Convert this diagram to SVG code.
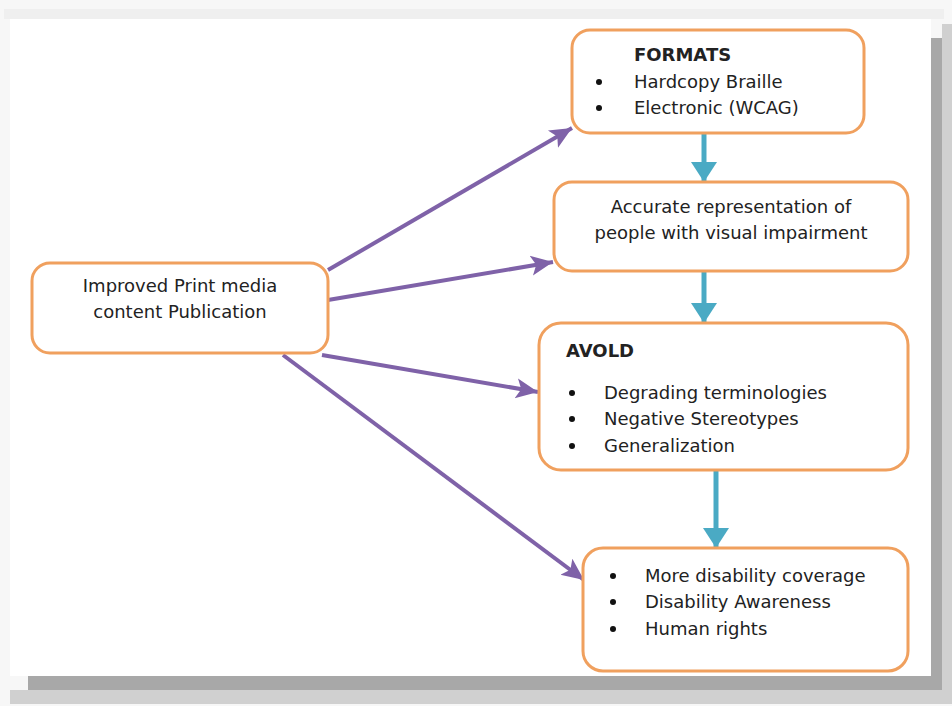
<svg xmlns="http://www.w3.org/2000/svg" width="952" height="706" viewBox="0 0 952 706">
<defs>
<style>
.box{fill:#fff;stroke:#f0a05e;stroke-width:3}
.t{font-family:"DejaVu Sans",Verdana,sans-serif;font-size:18px;fill:#222}
.b{font-weight:bold}
.p{stroke:#7f62a8;stroke-width:4;fill:none}
.c{stroke:#4aaac4;stroke-width:5;fill:none}
</style>
<marker id="pa" markerUnits="userSpaceOnUse" markerWidth="24" markerHeight="24" viewBox="0 0 24 24" refX="22" refY="12" orient="auto">
<path d="M0,2 L22,12 L0,22 L5,12 Z" fill="#7f62a8"/>
</marker>
<marker id="ca" markerUnits="userSpaceOnUse" markerWidth="24" markerHeight="26" viewBox="0 0 24 26" refX="20" refY="13" orient="auto">
<path d="M0,0 L20,13 L0,26 Z" fill="#4aaac4"/>
</marker>
</defs>
<rect x="0" y="0" width="952" height="706" fill="#f7f7f7"/>
<rect x="4" y="9" width="940" height="10" fill="#efefef"/>
<rect x="942" y="24" width="10" height="680" fill="#d0d0d0"/>
<rect x="10" y="690" width="935" height="14" fill="#d0d0d0"/>
<rect x="931" y="38" width="11" height="652" fill="#a8a8a8"/>
<rect x="28" y="676" width="914" height="14" fill="#a8a8a8"/>
<rect x="10" y="19" width="921" height="657" fill="#fff"/>

<g id="connectors">
<line class="p" x1="328" y1="270" x2="572" y2="128" marker-end="url(#pa)"/>
<line class="p" x1="328" y1="300" x2="553" y2="262" marker-end="url(#pa)"/>
<line class="p" x1="322" y1="355" x2="538" y2="392" marker-end="url(#pa)"/>
<line class="p" x1="283" y1="355" x2="584" y2="580" marker-end="url(#pa)"/>
<line class="c" x1="704" y1="134" x2="704" y2="182" marker-end="url(#ca)"/>
<line class="c" x1="704" y1="272" x2="704" y2="323" marker-end="url(#ca)"/>
<line class="c" x1="716" y1="471" x2="716" y2="548" marker-end="url(#ca)"/>
</g>

<g id="formats">
<rect class="box" x="572" y="30" width="292" height="103" rx="18"/>
<text class="t b" x="634" y="61" font-size="13.5">FORMATS</text>
<circle cx="599" cy="82" r="3" fill="#111"/>
<text class="t" x="634" y="88" font-size="17.4">Hardcopy Braille</text>
<circle cx="599" cy="108" r="3" fill="#111"/>
<text class="t" x="634" y="114" font-size="17.4">Electronic (WCAG)</text>
</g>

<g id="accurate">
<rect class="box" x="554" y="182" width="354" height="89" rx="18"/>
<text class="t" x="731" y="213" text-anchor="middle" font-size="18.6">Accurate representation of</text>
<text class="t" x="731" y="239" text-anchor="middle" font-size="18.6">people with visual impairment</text>
</g>

<g id="avoid">
<rect class="box" x="539" y="323" width="369" height="147" rx="22"/>
<text class="t b" x="566" y="357">AVOLD</text>
<circle cx="572" cy="393" r="3" fill="#111"/>
<text class="t" x="604" y="399">Degrading terminologies</text>
<circle cx="572" cy="419" r="3" fill="#111"/>
<text class="t" x="604" y="425">Negative Stereotypes</text>
<circle cx="572" cy="446" r="3" fill="#111"/>
<text class="t" x="604" y="452">Generalization</text>
</g>

<g id="coverage">
<rect class="box" x="583" y="548" width="325" height="123" rx="20"/>
<circle cx="613" cy="576" r="3" fill="#111"/>
<text class="t" x="645" y="582">More disability coverage</text>
<circle cx="613" cy="602" r="3" fill="#111"/>
<text class="t" x="645" y="608">Disability Awareness</text>
<circle cx="613" cy="629" r="3" fill="#111"/>
<text class="t" x="645" y="635">Human rights</text>
</g>

<g id="improved">
<rect class="box" x="32" y="263" width="296" height="90" rx="18"/>
<text class="t" x="180" y="292" text-anchor="middle" font-size="17.6">Improved Print media</text>
<text class="t" x="180" y="318" text-anchor="middle" font-size="17.6">content Publication</text>
</g>
</svg>
